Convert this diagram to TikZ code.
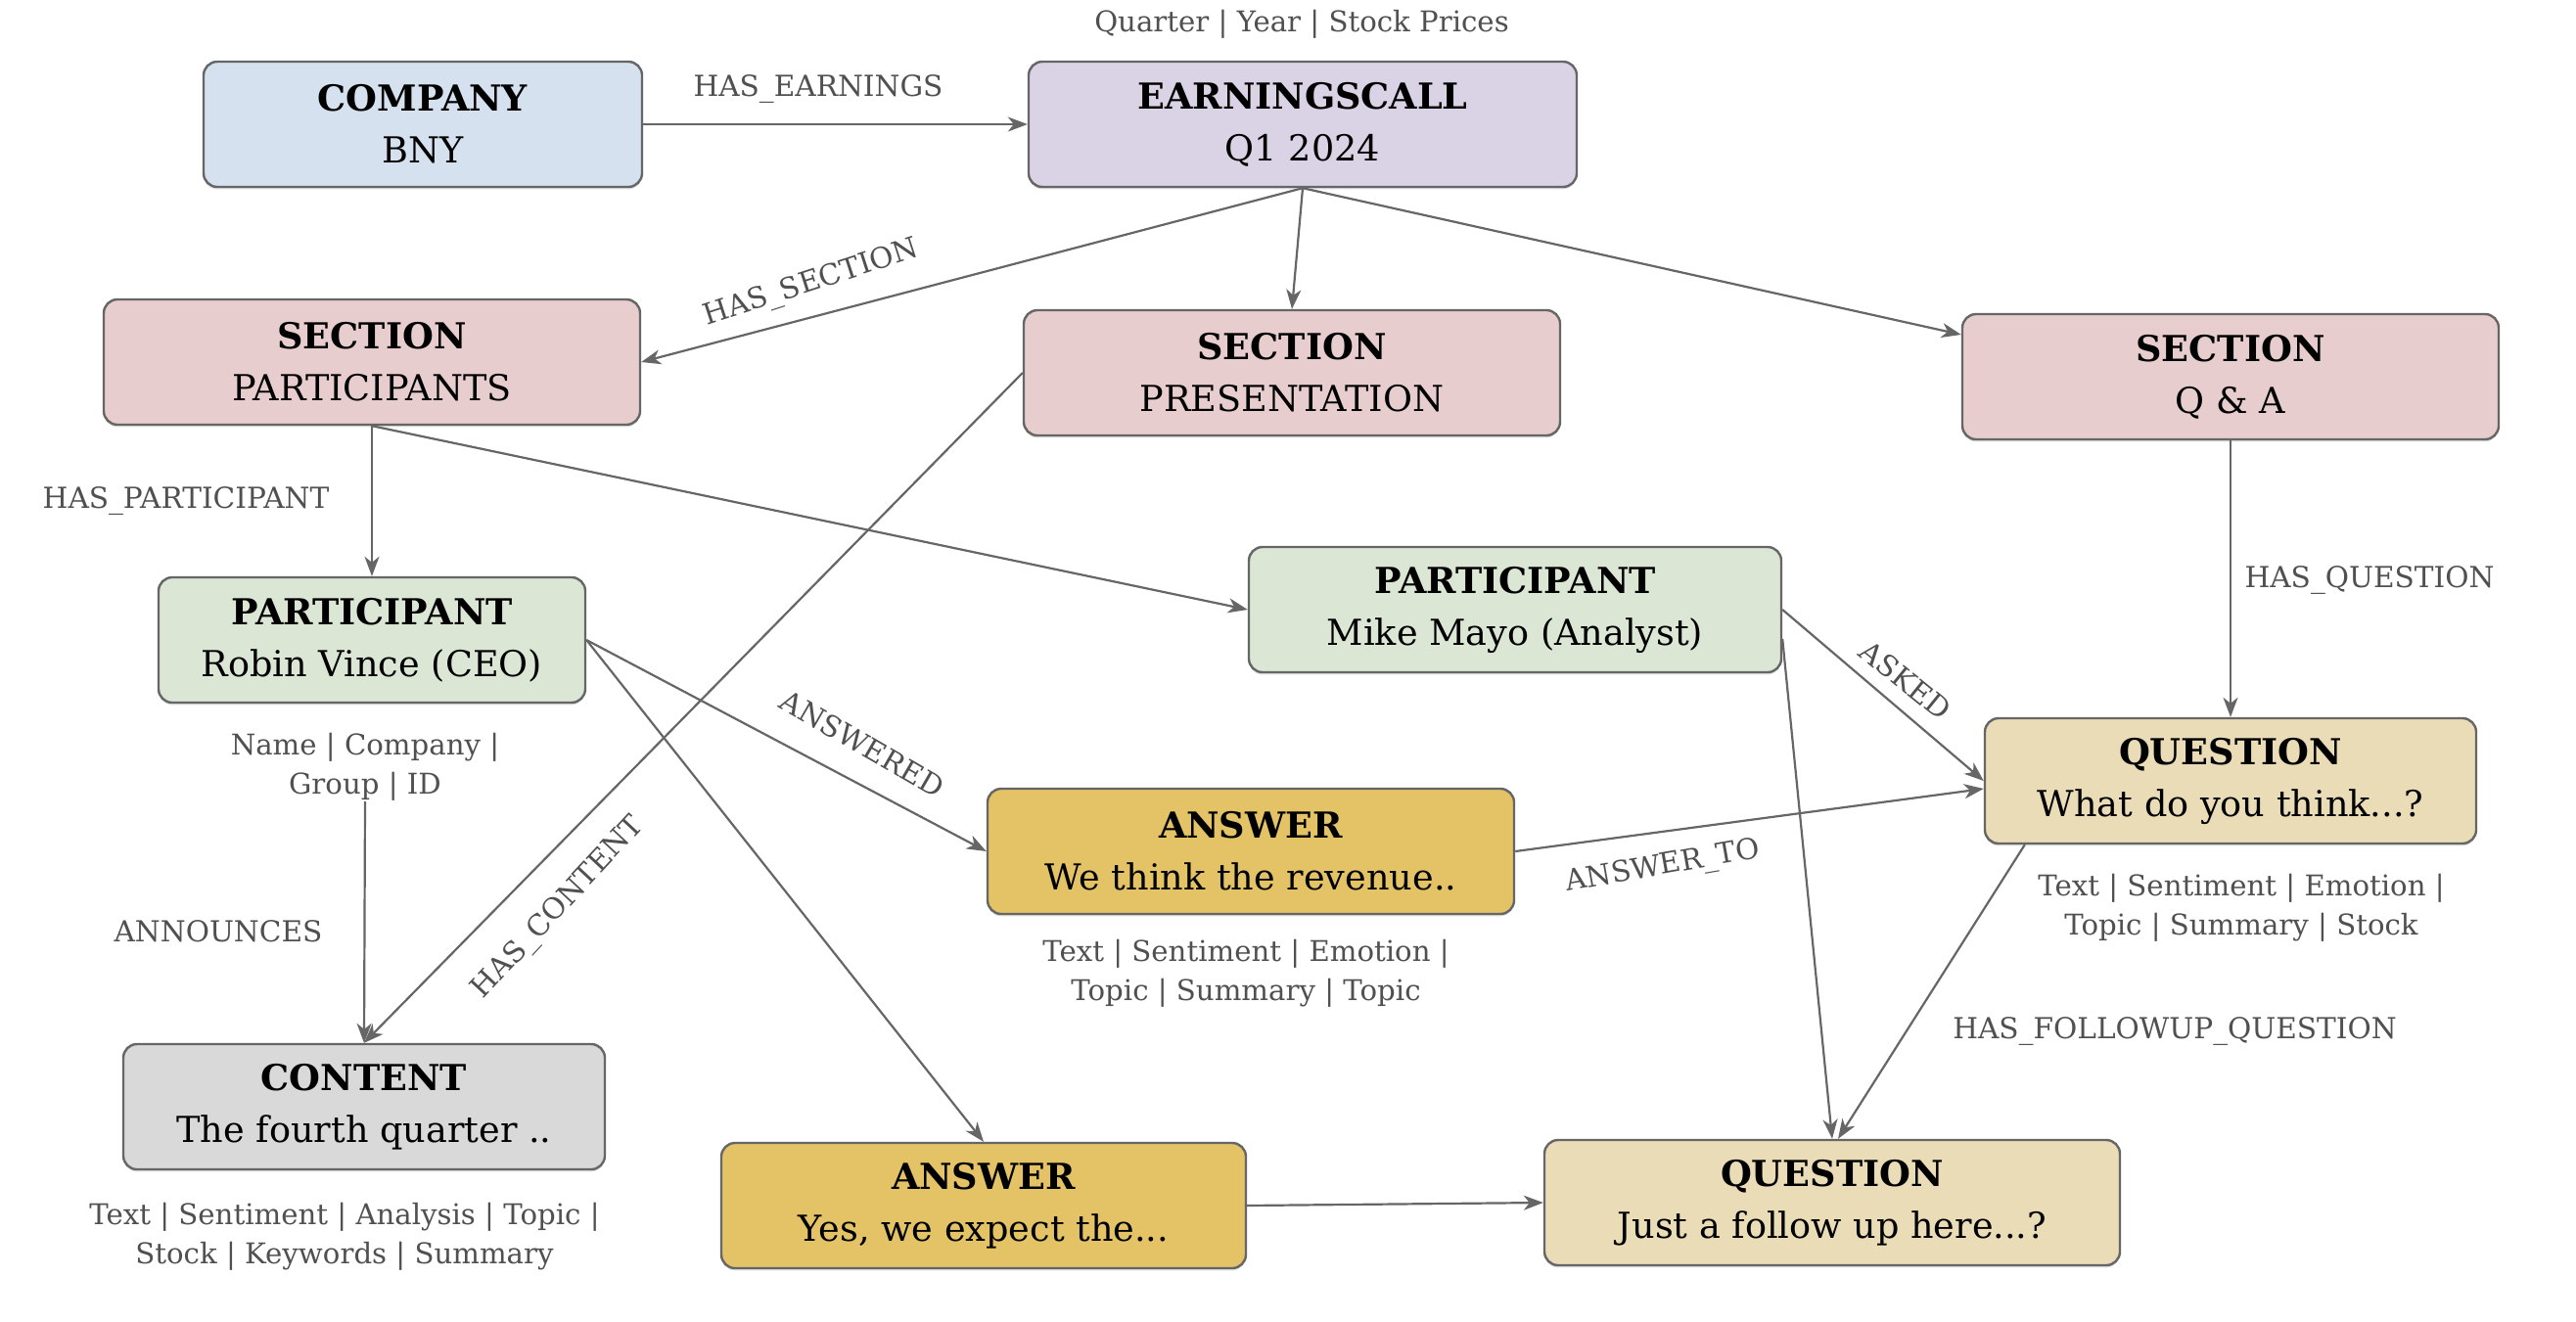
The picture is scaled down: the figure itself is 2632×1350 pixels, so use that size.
\documentclass[tikz,border=0pt]{standalone}
\usepackage{fontspec}
\setmainfont{DejaVu Serif}
\usetikzlibrary{arrows.meta,calc,shadows}
\definecolor{bline}{HTML}{666666}
\definecolor{eline}{HTML}{666666}
\definecolor{ltxt}{HTML}{505050}
\definecolor{cblue}{HTML}{D5E1EF}
\definecolor{clav}{HTML}{DAD3E5}
\definecolor{cpink}{HTML}{E8CDCE}
\definecolor{cgreen}{HTML}{DCE6D5}
\definecolor{cbeige}{HTML}{EBDCB8}
\definecolor{cgold}{HTML}{E4C366}
\definecolor{cgray}{HTML}{D9D9D9}
\tikzset{
  ent/.style={draw=bline, line width=1.2pt, rounded corners=7pt, align=center,
    inner sep=0pt, minimum height=64pt, font=\fontsize{18.3}{26.5}\selectfont,
    drop shadow={shadow xshift=0pt, shadow yshift=-1.2pt, opacity=0.25}},
  props/.style={align=center, text=ltxt, font=\fontsize{14.6}{20}\selectfont, inner sep=0pt},
  lbl/.style={text=ltxt, font=\fontsize{14.8}{16}\selectfont, inner sep=0pt},
  conn/.style={draw=eline, line width=1.1pt, -{Stealth[length=10pt,width=7.5pt,inset=3pt]}}
}
\begin{document}
\begin{tikzpicture}[x=0.5pt,y=-0.5pt]
\useasboundingbox[fill=white] (0,0) rectangle (2632,1350);
% entities
\node[ent, fill=cblue, minimum width=224pt] (company) at (432,127) {\textbf{COMPANY}\\BNY};
\node[ent, fill=clav, minimum width=280pt] (ec) at (1331,127) {\textbf{EARNINGSCALL}\\Q1 2024};
\node[ent, fill=cpink, minimum width=274pt] (sp) at (380,370) {\textbf{SECTION}\\PARTICIPANTS};
\node[ent, fill=cpink, minimum width=274pt] (pres) at (1320,381) {\textbf{SECTION}\\PRESENTATION};
\node[ent, fill=cpink, minimum width=274pt] (qa) at (2279,385) {\textbf{SECTION}\\Q \& A};
\node[ent, fill=cgreen, minimum width=218pt] (robin) at (380,654) {\textbf{PARTICIPANT}\\Robin Vince (CEO)};
\node[ent, fill=cgreen, minimum width=272pt] (mike) at (1548,623) {\textbf{PARTICIPANT}\\Mike Mayo (Analyst)};
\node[ent, fill=cbeige, minimum width=251pt] (qwhat) at (2279,798) {\textbf{QUESTION}\\What do you think...?};
\node[ent, fill=cgold, minimum width=269pt] (ans1) at (1278,870) {\textbf{ANSWER}\\We think the revenue..};
\node[ent, fill=cgray, minimum width=246pt] (content) at (372,1131) {\textbf{CONTENT}\\The fourth quarter ..};
\node[ent, fill=cgold, minimum width=268pt] (ans2) at (1005,1232) {\textbf{ANSWER}\\Yes, we expect the...};
\node[ent, fill=cbeige, minimum width=294pt] (qjust) at (1872,1229) {\textbf{QUESTION}\\Just a follow up here...?};
% property lists
\node[props] (ecprops) at (1330,25) {Quarter | Year | Stock Prices};
\node[props] (robprops) at (373,784) {Name | Company |\\Group | ID};
\node[props] (a1props) at (1273,995) {Text | Sentiment | Emotion |\\Topic | Summary | Topic};
\node[props] (qwprops) at (2290,928) {Text | Sentiment | Emotion |\\Topic | Summary | Stock};
\node[props] (conprops) at (352,1264) {Text | Sentiment | Analysis | Topic |\\Stock | Keywords | Summary};
% helper coordinates
\coordinate (qaw) at ($(qa.north west)!0.17!(qa.south west)$);
\coordinate (mikelow) at ($(mike.north east)!0.73!(mike.south east)$);
\coordinate (qwsw) at ($(qwhat.south west)+(42,0)$);
\coordinate (qjn) at ($(qjust.north)+(6,0)$);
% connectors
\draw[conn] (company.east) -- (ec.west);
\draw[conn] (ec.south) -- (sp.east);
\draw[conn] (ec.south) -- (pres.north);
\draw[conn] (ec.south) -- (qaw);
\draw[conn] (sp.south) -- (robin.north);
\draw[conn] (sp.south) -- (mike.west);
\draw[conn] (pres.west) -- (content.north);
\draw[conn] (robprops.south) -- (content.north);
\draw[conn] (robin.east) -- (ans1.west);
\draw[conn] (robin.east) -- (ans2.north);
\draw[conn] (mike.east) -- (qwhat.west);
\draw[conn] (mikelow) -- (qjust.north);
\draw[conn] (qa.south) -- (qwhat.north);
\draw[conn] (ans1.east) -- ($(qwhat.west)+(0,8)$);
\draw[conn] (qwsw) -- (qjn);
\draw[conn] (ans2.east) -- (qjust.west);
% edge labels
\node[lbl] (lHE) at (836,91) {HAS\_EARNINGS};
\node[lbl, rotate=18] (lHS) at (829,290) {HAS\_SECTION};
\node[lbl] (lHP) at (190,512) {HAS\_PARTICIPANT};
\node[lbl] (lHQ) at (2421,593) {HAS\_QUESTION};
\node[lbl, rotate=-39] (lASK) at (1947,695) {ASKED};
\node[lbl, rotate=-30] (lANS) at (881,760) {ANSWERED};
\node[lbl, rotate=10] (lAT) at (1699,886) {ANSWER\_TO};
\node[lbl, rotate=47] (lHC) at (571,928) {HAS\_CONTENT};
\node[lbl] (lANN) at (223,952) {ANNOUNCES};
\node[lbl] (lHF) at (2222,1054) {HAS\_FOLLOWUP\_QUESTION};
\end{tikzpicture}
\end{document}
